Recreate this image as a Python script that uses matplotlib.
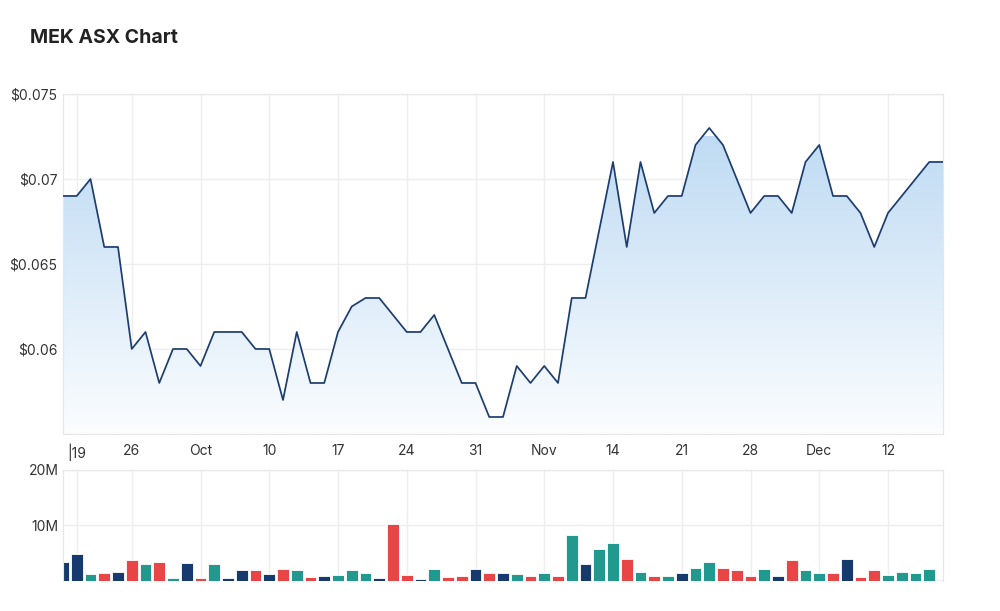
import numpy as np
import pandas as pd
import matplotlib
matplotlib.use('Agg')
import matplotlib.pyplot as plt
from matplotlib.colors import LinearSegmentedColormap
from matplotlib.ticker import FuncFormatter

plt.rcParams['font.family'] = ['Inter', 'DejaVu Sans']

# trading days (ASX closed 22 Sep 2022)
dates = pd.bdate_range('2022-09-16', '2022-12-16').drop(pd.Timestamp('2022-09-22'))

close = [0.069, 0.069, 0.070, 0.066, 0.066, 0.060, 0.061, 0.058, 0.060, 0.060,
         0.059, 0.061, 0.061, 0.061, 0.060, 0.060, 0.057, 0.061, 0.058, 0.058,
         0.061, 0.0625, 0.063, 0.063, 0.062, 0.061, 0.061, 0.062, 0.060, 0.058,
         0.058, 0.056, 0.056, 0.059, 0.058, 0.059, 0.058, 0.063, 0.063, 0.067,
         0.071, 0.066, 0.071, 0.068, 0.069, 0.069, 0.072, 0.073, 0.072, 0.070,
         0.068, 0.069, 0.069, 0.068, 0.071, 0.072, 0.069, 0.069, 0.068, 0.066,
         0.068, 0.069, 0.070, 0.071, 0.071]

volume_m = [3.35, 4.9, 1.27, 1.5, 1.7, 3.8, 3.0, 3.35, 0.57, 3.2,
            0.57, 3.0, 0.57, 1.9, 1.9, 1.3, 2.15, 1.9, 0.76, 0.95,
            1.14, 1.9, 1.5, 0.57, 10.2, 1.14, 0.38, 2.15, 0.76, 0.95,
            2.15, 1.5, 1.5, 1.27, 0.9, 1.5, 0.95, 8.2, 3.0, 5.75,
            6.8, 3.9, 1.7, 0.9, 0.9, 1.5, 2.3, 3.35, 2.3, 1.9,
            0.9, 2.15, 0.9, 3.7, 1.9, 1.5, 1.5, 3.9, 0.7, 1.9,
            1.08, 1.7, 1.5, 2.15, 0.12]

tick_dates = ['2022-09-19', '2022-09-26', '2022-10-03', '2022-10-10', '2022-10-17',
              '2022-10-24', '2022-10-31', '2022-11-07', '2022-11-14', '2022-11-21',
              '2022-11-28', '2022-12-05', '2022-12-12']
tick_labels = ['|19', '26', 'Oct', '10', '17', '24', '31', 'Nov', '14', '21', '28', 'Dec', '12']

price_ticks = [0.06, 0.065, 0.07, 0.075]
vol_ticks = [10, 20]

x = np.arange(len(dates))
ticks = dates.get_indexer(pd.to_datetime(tick_dates))
close = np.array(close)
volume = np.array(volume_m) * 1e6

grid_c = '#eeeeee'
text_c = '#333333'
line_c = '#1d3d70'
up_c, down_c, flat_c = '#22998e', '#e84646', '#163a6e'

fig = plt.figure(figsize=(10, 6.11), dpi=100)
fig.text(0.030, 0.937, 'MEK ASX Chart', fontsize=14, fontweight='bold',
         color='#222222', va='center', ha='left')

# price panel
ax = fig.add_axes([0.063, 0.2897, 0.88, 0.5565])
ax.set_xlim(x[0], x[-1])
ax.set_ylim(0.055, 0.075)

poly = ax.fill_between(x, close, 0.055, color='none', lw=0)
grad = LinearSegmentedColormap.from_list('g', ['#fbfdff', '#bfdbf3'])
img = ax.imshow(np.linspace(0, 1, 256).reshape(-1, 1), cmap=grad, aspect='auto',
                origin='lower', extent=[x[0], x[-1], 0.055, 0.0725], zorder=1)
img.set_clip_path(poly.get_paths()[0], transform=ax.transData)
ax.plot(x, close, color=line_c, lw=1.25, zorder=3)

ax.set_xticks(ticks)
ax.set_xticklabels(tick_labels)
ax.set_yticks(price_ticks)
ax.yaxis.set_major_formatter(FuncFormatter(lambda v, p: '$' + ('%.3f' % v).rstrip('0')))
ax.grid(True, color=grid_c, lw=1, zorder=0)
ax.set_axisbelow(True)
ax.tick_params(length=0, labelsize=10, colors=text_c)
ax.tick_params(axis='x', pad=7)
ax.tick_params(axis='y', pad=4)
for s in ax.spines.values():
    s.set_color('#e6e6e6')

# volume panel
vx = fig.add_axes([0.063, 0.0491, 0.88, 0.1817])
colors = [flat_c]
for i in range(1, len(close)):
    if close[i] > close[i - 1]:
        colors.append(up_c)
    elif close[i] < close[i - 1]:
        colors.append(down_c)
    else:
        colors.append(flat_c)
vx.bar(x, volume, width=0.86, color=colors, edgecolor='white', lw=0.6, zorder=2)
vx.set_xlim(x[0], x[-1])
vx.set_ylim(0, 20e6)
vx.set_xticks(ticks)
vx.set_xticklabels([])
vx.set_yticks([v * 1e6 for v in vol_ticks])
vx.set_yticklabels(['%dM' % v for v in vol_ticks])
vx.grid(True, color=grid_c, lw=1, zorder=0)
vx.set_axisbelow(True)
vx.tick_params(length=0, labelsize=10, colors=text_c)
vx.tick_params(axis='y', pad=3)
for s in vx.spines.values():
    s.set_color('#e6e6e6')
vx.spines['bottom'].set_visible(False)

fig.savefig('out.png', dpi=100)
